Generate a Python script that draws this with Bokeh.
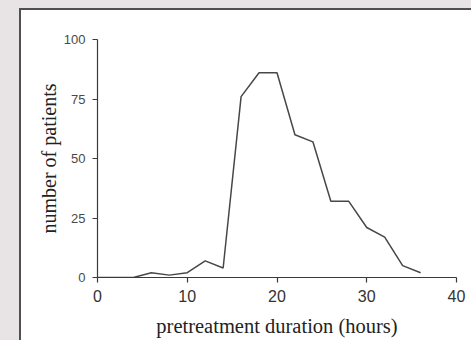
from bokeh.plotting import figure
from bokeh.models import Range1d, FixedTicker, LinearAxis
from bokeh.embed import file_html
from bokeh.resources import INLINE

# Data
hours = [0, 2, 4, 6, 8, 10, 12, 14, 16, 18, 20, 22, 24, 26, 28, 30, 32, 34, 36]
patients = [0, 0, 0, 2, 1, 2, 7, 4, 76, 86, 86, 60, 57, 32, 32, 21, 17, 5, 2]
x_ticks = [0, 10, 20, 30, 40]
y_ticks = [0, 25, 50, 75, 100]

GRAY = "#e8e4e6"
DARK = "#505050"
shadow = ", ".join([
    f"-2px -2px 0 0 {DARK}", f"-2px 0 0 0 {DARK}", f"0 -2px 0 0 {DARK}",
    f"-21px -10px 0 0 {GRAY}", f"-21px 0 0 0 {GRAY}", f"0 -10px 0 0 {GRAY}",
])

p = figure(width=450, height=330, output_backend="svg", toolbar_location=None,
           x_range=Range1d(0, 40), y_range=Range1d(0, 100),
           min_border_left=76, min_border_right=15, min_border_top=29, min_border_bottom=63,
           margin=(10, 0, 0, 21),
           styles={"box-shadow": shadow})

p.border_fill_color = "white"
p.background_fill_color = "white"
p.outline_line_color = None
p.xgrid.visible = False
p.ygrid.visible = False

p.line(hours, patients, line_color="#474747", line_width=1.5)

for ax in (p.xaxis[0], p.yaxis[0]):
    ax.axis_line_color = "#3a3a3a"
    ax.axis_line_width = 1.2
    ax.major_tick_line_color = "#3a3a3a"
    ax.major_tick_line_width = 1.2
    ax.major_tick_in = 0
    ax.major_tick_out = 5
    ax.minor_tick_line_color = None
    ax.major_label_text_color = "#333333"
    ax.major_label_text_font = "Liberation Sans"

p.xaxis[0].ticker = FixedTicker(ticks=x_ticks)
p.yaxis[0].ticker = FixedTicker(ticks=y_ticks)
p.xaxis[0].major_label_text_font_size = "16px"
p.yaxis[0].major_label_text_font_size = "13px"
p.yaxis[0].major_label_text_color = "#4a4a4a"
p.xaxis[0].major_label_standoff = 7
p.yaxis[0].major_label_standoff = 7

p.xaxis[0].axis_label = "pretreatment duration (hours)"
p.xaxis[0].axis_label_text_font = "Liberation Serif"
p.xaxis[0].axis_label_text_font_style = "normal"
p.xaxis[0].axis_label_text_font_size = "20.5px"
p.xaxis[0].axis_label_text_color = "#222222"
p.xaxis[0].axis_label_standoff = 10

# y title carried by a bare axis so it sits a little above the frame centre, as in the reference
ytitle = LinearAxis(ticker=FixedTicker(ticks=[]), bounds=(8, 100),
                    axis_line_color=None, major_tick_line_color=None,
                    minor_tick_line_color=None, major_tick_out=0, major_tick_in=0,
                    major_label_standoff=0,
                    axis_label="number of patients",
                    axis_label_text_font="Liberation Serif",
                    axis_label_text_font_style="normal",
                    axis_label_text_font_size="20px",
                    axis_label_text_color="#222222",
                    axis_label_standoff=1)
p.add_layout(ytitle, "left")

open("out.html", "w").write(file_html(p, INLINE))
